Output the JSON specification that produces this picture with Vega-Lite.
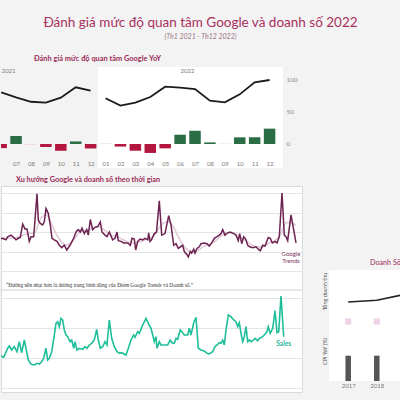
{
  "$schema": "https://vega.github.io/schema/vega-lite/v6.json",
  "background": "#f3f3f3",
  "padding": {"top": 16, "bottom": 8, "left": 0, "right": 0},
  "config": {"font": "Lato", "view": {"stroke": null}},
  "title": {
    "text": "Đánh giá mức độ quan tâm Google và doanh số 2022",
    "subtitle": "(Th1 2021 - Th12 2022)",
    "anchor": "middle",
    "fontSize": 13.5,
    "fontWeight": "normal",
    "color": "#a8305e",
    "subtitleFontSize": 7,
    "subtitleFontStyle": "italic",
    "subtitleColor": "#9a7585",
    "subtitlePadding": 3,
    "offset": 15
  },
  "datasets": {
    "yoy": [
      {"nam": "2021", "thang": "06", "idx": 6, "diem": 80.5, "yoy": -6.4},
      {"nam": "2021", "thang": "07", "idx": 7, "diem": 72.9, "yoy": 12.6},
      {"nam": "2021", "thang": "08", "idx": 8, "diem": 66, "yoy": -1.2},
      {"nam": "2021", "thang": "09", "idx": 9, "diem": 64.5, "yoy": -4.7},
      {"nam": "2021", "thang": "10", "idx": 10, "diem": 72.3, "yoy": -10.4},
      {"nam": "2021", "thang": "11", "idx": 11, "diem": 88.6, "yoy": 4},
      {"nam": "2021", "thang": "12", "idx": 12, "diem": 83.3, "yoy": -7},
      {"nam": "2022", "thang": "01", "idx": 13, "diem": 71.4, "yoy": 1},
      {"nam": "2022", "thang": "02", "idx": 14, "diem": 59.9, "yoy": -4},
      {"nam": "2022", "thang": "03", "idx": 15, "diem": 64.6, "yoy": -10.5},
      {"nam": "2022", "thang": "04", "idx": 16, "diem": 73.4, "yoy": -14},
      {"nam": "2022", "thang": "05", "idx": 17, "diem": 89.6, "yoy": -6.8},
      {"nam": "2022", "thang": "06", "idx": 18, "diem": 88, "yoy": 14.5},
      {"nam": "2022", "thang": "07", "idx": 19, "diem": 85.9, "yoy": 20.7},
      {"nam": "2022", "thang": "08", "idx": 20, "diem": 67.7, "yoy": 2.5},
      {"nam": "2022", "thang": "09", "idx": 21, "diem": 65.1, "yoy": 0.8},
      {"nam": "2022", "thang": "10", "idx": 22, "diem": 77.6, "yoy": 10.4},
      {"nam": "2022", "thang": "11", "idx": 23, "diem": 96.4, "yoy": 10.6},
      {"nam": "2022", "thang": "12", "idx": 24, "diem": 100, "yoy": 24}
    ],
    "google": [
      {"t": 0, "g": 42}, {"t": 3.3, "g": 41}, {"t": 5, "g": 40}, {"t": 6.7, "g": 44}, {"t": 10, "g": 46},
      {"t": 12.7, "g": 43}, {"t": 15, "g": 40}, {"t": 17.3, "g": 42}, {"t": 19.3, "g": 43}, {"t": 21.7, "g": 60},
      {"t": 24, "g": 54}, {"t": 26, "g": 54}, {"t": 28.3, "g": 38}, {"t": 30, "g": 44}, {"t": 32.7, "g": 44},
      {"t": 36, "g": 99}, {"t": 37.3, "g": 65}, {"t": 39.3, "g": 61}, {"t": 41.7, "g": 59}, {"t": 43.3, "g": 63},
      {"t": 45, "g": 80}, {"t": 47.3, "g": 74}, {"t": 49.3, "g": 59}, {"t": 51, "g": 42}, {"t": 53.3, "g": 40},
      {"t": 56, "g": 38}, {"t": 58.3, "g": 33}, {"t": 60.7, "g": 30}, {"t": 63.3, "g": 33}, {"t": 65.7, "g": 27},
      {"t": 69, "g": 33}, {"t": 71, "g": 38}, {"t": 72.7, "g": 42}, {"t": 75, "g": 50}, {"t": 77.3, "g": 53},
      {"t": 79.3, "g": 50}, {"t": 81, "g": 55}, {"t": 83.3, "g": 48}, {"t": 85.7, "g": 53}, {"t": 87.3, "g": 46},
      {"t": 89.3, "g": 66}, {"t": 91.7, "g": 53}, {"t": 94, "g": 56}, {"t": 96.7, "g": 57}, {"t": 99.3, "g": 63},
      {"t": 101, "g": 50}, {"t": 104, "g": 46}, {"t": 106, "g": 44}, {"t": 108.3, "g": 50}, {"t": 111.7, "g": 40},
      {"t": 114, "g": 42}, {"t": 116, "g": 50}, {"t": 117.3, "g": 39}, {"t": 120, "g": 38}, {"t": 122.7, "g": 36},
      {"t": 126.7, "g": 36}, {"t": 129.3, "g": 33}, {"t": 131, "g": 42}, {"t": 133.3, "g": 41}, {"t": 134.7, "g": 27},
      {"t": 136.7, "g": 38}, {"t": 139, "g": 41}, {"t": 141.7, "g": 40}, {"t": 144, "g": 42}, {"t": 146.7, "g": 40},
      {"t": 147.7, "g": 49}, {"t": 149, "g": 38}, {"t": 150.5, "g": 40}, {"t": 153.3, "g": 48}, {"t": 155.5, "g": 50},
      {"t": 158.3, "g": 90}, {"t": 160.7, "g": 46}, {"t": 164, "g": 48}, {"t": 167.7, "g": 71}, {"t": 170, "g": 59},
      {"t": 172.7, "g": 33}, {"t": 175, "g": 35}, {"t": 177.3, "g": 29}, {"t": 181.7, "g": 33}, {"t": 183.3, "g": 25},
      {"t": 186, "g": 21}, {"t": 187.3, "g": 18}, {"t": 189.3, "g": 25}, {"t": 190.7, "g": 23}, {"t": 192.7, "g": 28},
      {"t": 194, "g": 23}, {"t": 196, "g": 29}, {"t": 198.3, "g": 31}, {"t": 200, "g": 35}, {"t": 203.3, "g": 36},
      {"t": 206, "g": 35}, {"t": 208.3, "g": 32}, {"t": 210.7, "g": 36}, {"t": 213.3, "g": 42}, {"t": 216, "g": 44},
      {"t": 218.3, "g": 46}, {"t": 220, "g": 48}, {"t": 221.7, "g": 53}, {"t": 224, "g": 46}, {"t": 226.7, "g": 49},
      {"t": 229.3, "g": 50}, {"t": 232.7, "g": 48}, {"t": 235, "g": 46}, {"t": 237.3, "g": 39}, {"t": 238.7, "g": 48},
      {"t": 240.7, "g": 35}, {"t": 242.7, "g": 44}, {"t": 244.7, "g": 41}, {"t": 246.7, "g": 33}, {"t": 248.7, "g": 31},
      {"t": 251.7, "g": 30}, {"t": 255, "g": 31}, {"t": 257.3, "g": 28}, {"t": 259.3, "g": 26}, {"t": 261.7, "g": 33},
      {"t": 264, "g": 32}, {"t": 267.3, "g": 43}, {"t": 269.3, "g": 42}, {"t": 271.3, "g": 36}, {"t": 274, "g": 38},
      {"t": 276, "g": 36}, {"t": 278.3, "g": 44}, {"t": 281, "g": 100}, {"t": 283.3, "g": 46}, {"t": 285, "g": 44},
      {"t": 286.7, "g": 39}, {"t": 290, "g": 72}, {"t": 295, "g": 36}
    ],
    "google_tb": [
      {"t": 0, "g": 43}, {"t": 8, "g": 42}, {"t": 15, "g": 43}, {"t": 22, "g": 46}, {"t": 28, "g": 48},
      {"t": 34, "g": 50}, {"t": 40, "g": 68}, {"t": 45, "g": 72}, {"t": 50, "g": 62}, {"t": 55, "g": 48},
      {"t": 60, "g": 38}, {"t": 65, "g": 33}, {"t": 70, "g": 36}, {"t": 75, "g": 44}, {"t": 80, "g": 51},
      {"t": 86, "g": 52}, {"t": 92, "g": 55}, {"t": 98, "g": 57}, {"t": 104, "g": 52}, {"t": 110, "g": 46},
      {"t": 116, "g": 44}, {"t": 122, "g": 40}, {"t": 128, "g": 37}, {"t": 134, "g": 36}, {"t": 140, "g": 38},
      {"t": 146, "g": 41}, {"t": 152, "g": 44}, {"t": 158, "g": 55}, {"t": 163, "g": 62}, {"t": 168, "g": 63},
      {"t": 173, "g": 55}, {"t": 178, "g": 42}, {"t": 184, "g": 30}, {"t": 190, "g": 25}, {"t": 196, "g": 26},
      {"t": 202, "g": 31}, {"t": 208, "g": 34}, {"t": 214, "g": 38}, {"t": 220, "g": 45}, {"t": 226, "g": 49},
      {"t": 232, "g": 49}, {"t": 238, "g": 44}, {"t": 244, "g": 40}, {"t": 250, "g": 34}, {"t": 256, "g": 31},
      {"t": 262, "g": 31}, {"t": 268, "g": 36}, {"t": 274, "g": 39}, {"t": 280, "g": 48}, {"t": 285, "g": 62},
      {"t": 290, "g": 62}, {"t": 295, "g": 58}
    ],
    "sales": [
      {"t": 0, "s": 53.3}, {"t": 2.7, "s": 51.2}, {"t": 6.7, "s": 66.2}, {"t": 8.3, "s": 70}, {"t": 10.7, "s": 63.3},
      {"t": 13.3, "s": 68.8}, {"t": 16, "s": 60.5}, {"t": 18.3, "s": 77.2}, {"t": 20.7, "s": 58.8}, {"t": 23.3, "s": 80},
      {"t": 25, "s": 66.2}, {"t": 27.3, "s": 46.7}, {"t": 30, "s": 39.5}, {"t": 33.3, "s": 38.3}, {"t": 36, "s": 41.2},
      {"t": 38.3, "s": 40}, {"t": 40.7, "s": 43.8}, {"t": 42.7, "s": 49.5}, {"t": 45, "s": 66.2}, {"t": 46.7, "s": 46.7},
      {"t": 48.3, "s": 49.5}, {"t": 50.7, "s": 60.5}, {"t": 53.3, "s": 88.3}, {"t": 55, "s": 107.8}, {"t": 56.7, "s": 110.5},
      {"t": 58.3, "s": 102.2}, {"t": 60, "s": 116.2}, {"t": 61.7, "s": 113.3}, {"t": 63.3, "s": 96.7}, {"t": 65, "s": 88.3},
      {"t": 66.7, "s": 85.5}, {"t": 69, "s": 77.2}, {"t": 70.7, "s": 80}, {"t": 72.7, "s": 66.2}, {"t": 74, "s": 77.2},
      {"t": 76, "s": 63.3}, {"t": 78.3, "s": 66.2}, {"t": 81.7, "s": 64.5}, {"t": 84, "s": 68.8}, {"t": 86, "s": 66.2},
      {"t": 88.3, "s": 71.7}, {"t": 90.7, "s": 74.5}, {"t": 93.3, "s": 80}, {"t": 95.7, "s": 97.8}, {"t": 97.3, "s": 80},
      {"t": 99.3, "s": 66.2}, {"t": 101.7, "s": 68.8}, {"t": 104, "s": 77.2}, {"t": 106, "s": 71.7}, {"t": 108.3, "s": 113.3},
      {"t": 110.7, "s": 82.8}, {"t": 113.3, "s": 68.8}, {"t": 116, "s": 60.5}, {"t": 118.7, "s": 57.8}, {"t": 120.7, "s": 58.8},
      {"t": 125, "s": 55}, {"t": 127.3, "s": 66.2}, {"t": 130, "s": 80}, {"t": 132.7, "s": 88.3}, {"t": 134, "s": 84.5},
      {"t": 136.7, "s": 93.8}, {"t": 138.3, "s": 91.2}, {"t": 141.7, "s": 105}, {"t": 145, "s": 116.2}, {"t": 147.3, "s": 107.8},
      {"t": 150, "s": 99.5}, {"t": 151.7, "s": 88.3}, {"t": 153.3, "s": 77.2}, {"t": 155, "s": 85.5}, {"t": 156, "s": 66.2},
      {"t": 158.3, "s": 77.2}, {"t": 160, "s": 71.7}, {"t": 163.3, "s": 71.7}, {"t": 166.7, "s": 71.7}, {"t": 169.3, "s": 80},
      {"t": 171, "s": 75.5}, {"t": 173.3, "s": 74.5}, {"t": 175, "s": 82.8}, {"t": 176.7, "s": 81.2}, {"t": 179.3, "s": 96.7},
      {"t": 181.7, "s": 92.2}, {"t": 183.3, "s": 88.3}, {"t": 186.7, "s": 88.3}, {"t": 188.3, "s": 99.5}, {"t": 190, "s": 88.3},
      {"t": 192.7, "s": 108.8}, {"t": 195, "s": 117.8}, {"t": 197.3, "s": 66.2}, {"t": 200, "s": 63.3}, {"t": 203.3, "s": 61.7},
      {"t": 206, "s": 57.8}, {"t": 208.3, "s": 56.7}, {"t": 211.7, "s": 60.5}, {"t": 214, "s": 68.8}, {"t": 216, "s": 71.7},
      {"t": 218.3, "s": 75.5}, {"t": 220, "s": 74.5}, {"t": 221.7, "s": 80}, {"t": 223.3, "s": 71.7}, {"t": 225, "s": 96.7},
      {"t": 227.3, "s": 121.7}, {"t": 230, "s": 118.8}, {"t": 232.7, "s": 113.3}, {"t": 235, "s": 110.5}, {"t": 236.7, "s": 102.2},
      {"t": 238.3, "s": 108.8}, {"t": 240, "s": 91.2}, {"t": 241.7, "s": 77.2}, {"t": 243.3, "s": 85.5}, {"t": 245, "s": 102.2},
      {"t": 246.7, "s": 77.2}, {"t": 248.3, "s": 80}, {"t": 250, "s": 77.2}, {"t": 252.7, "s": 80}, {"t": 254, "s": 82.8},
      {"t": 256.7, "s": 78.8}, {"t": 258.3, "s": 82.8}, {"t": 260.7, "s": 84.5}, {"t": 263.3, "s": 88.3}, {"t": 266, "s": 93.8},
      {"t": 267.3, "s": 102.2}, {"t": 269.3, "s": 91.2}, {"t": 271.7, "s": 99.5}, {"t": 274, "s": 128.8}, {"t": 276, "s": 92.2},
      {"t": 277.7, "s": 93.8}, {"t": 280, "s": 153.3}, {"t": 282.7, "s": 85.5}
    ],
    "theo_nam": [
      {"nam": 2017, "doanh_thu": 100, "diem_gg": 53.6, "cpi": 3.53},
      {"nam": 2018, "doanh_thu": 104.5, "diem_gg": 53.6, "cpi": 3.54},
      {"nam": 2019, "doanh_thu": 120.5, "diem_gg": 53.6, "cpi": 2.79}
    ]
  },
  "bounds": "flush",
  "spacing": 18,
  "vconcat": [
    {
      "width": 282,
      "height": 101,
      "title": {"text": "Đánh giá mức độ quan tâm Google YoY", "anchor": "start", "frame": "group", "dx": 33, "offset": 5, "fontSize": 7.4, "fontWeight": "bold", "color": "#9b2b57"},
      "layer": [
        {
          "data": {"values": [{"nam": "2022"}]},
          "mark": {"type": "rect", "color": "#ffffff", "clip": true},
          "encoding": {
            "x": {"datum": 12.5, "type": "quantitative", "scale": {"domain": [6.325, 24.565]},
              "axis": {"orient": "bottom", "offset": -9, "values": [7, 8, 9, 10, 11, 12, 13, 14, 15, 16, 17, 18, 19, 20, 21, 22, 23, 24], "labelExpr": "pad((datum.value - 1) % 12 + 1, 2, '0', 'left')", "labelFontSize": 6, "labelColor": "#7a7a7a", "labelPadding": 1, "labelOverlap": false, "labelFlush": false, "ticks": false, "domain": false, "grid": false, "title": null, "zindex": 1}},
            "x2": {"datum": 25},
            "y": {"datum": 120.3, "type": "quantitative", "scale": {"domain": [-37.5, 120.3]},
              "axis": {"orient": "right", "values": [0, 50, 100], "labelFontSize": 6.5, "labelColor": "#8a8a8a", "labelPadding": 3, "ticks": false, "domain": false, "grid": false, "title": null, "zindex": 1}},
            "y2": {"datum": -37.5}
          }
        },
        {
          "data": {"name": "yoy"},
          "mark": {"type": "bar", "width": 11.5, "clip": true},
          "encoding": {
            "x": {"field": "idx", "type": "quantitative", "scale": {"domain": [6.325, 24.565]},
              "axis": {"orient": "bottom", "offset": -9, "values": [7, 8, 9, 10, 11, 12, 13, 14, 15, 16, 17, 18, 19, 20, 21, 22, 23, 24], "labelExpr": "pad((datum.value - 1) % 12 + 1, 2, '0', 'left')", "labelFontSize": 6, "labelColor": "#7a7a7a", "labelPadding": 1, "labelOverlap": false, "labelFlush": false, "ticks": false, "domain": false, "grid": false, "title": null, "zindex": 1}},
            "y": {"field": "yoy", "type": "quantitative", "scale": {"domain": [-37.5, 120.3]},
              "axis": {"orient": "right", "values": [0, 50, 100], "labelFontSize": 6.5, "labelColor": "#8a8a8a", "labelPadding": 3, "ticks": false, "domain": false, "grid": false, "title": null, "zindex": 1}},
            "color": {"field": "yoy", "type": "quantitative", "scale": {"type": "threshold", "domain": [-2, 0, 2], "range": ["#b3173f", "#f0d3db", "#d8e8dd", "#2b6d44"]}, "legend": null}
          }
        },
        {
          "data": {"name": "yoy"},
          "mark": {"type": "line", "color": "#1a1a1a", "strokeWidth": 1.8, "clip": true},
          "encoding": {
            "x": {"field": "idx", "type": "quantitative", "scale": {"domain": [6.325, 24.565]},
              "axis": {"orient": "bottom", "offset": -9, "values": [7, 8, 9, 10, 11, 12, 13, 14, 15, 16, 17, 18, 19, 20, 21, 22, 23, 24], "labelExpr": "pad((datum.value - 1) % 12 + 1, 2, '0', 'left')", "labelFontSize": 6, "labelColor": "#7a7a7a", "labelPadding": 1, "labelOverlap": false, "labelFlush": false, "ticks": false, "domain": false, "grid": false, "title": null, "zindex": 1}},
            "y": {"field": "diem", "type": "quantitative", "scale": {"domain": [-37.5, 120.3]},
              "axis": {"orient": "right", "values": [0, 50, 100], "labelFontSize": 6.5, "labelColor": "#8a8a8a", "labelPadding": 3, "ticks": false, "domain": false, "grid": false, "title": null, "zindex": 1}},
            "detail": {"field": "nam"}
          }
        },
        {
          "data": {"values": [{"nam": "2021"}]},
          "mark": {"type": "text", "fontSize": 6, "color": "#7a7a7a", "align": "center", "baseline": "middle", "clip": true},
          "encoding": {
            "x": {"datum": 6.5, "type": "quantitative", "scale": {"domain": [6.325, 24.565]},
              "axis": {"orient": "bottom", "offset": -9, "values": [7, 8, 9, 10, 11, 12, 13, 14, 15, 16, 17, 18, 19, 20, 21, 22, 23, 24], "labelExpr": "pad((datum.value - 1) % 12 + 1, 2, '0', 'left')", "labelFontSize": 6, "labelColor": "#7a7a7a", "labelPadding": 1, "labelOverlap": false, "labelFlush": false, "ticks": false, "domain": false, "grid": false, "title": null, "zindex": 1}},
            "y": {"datum": 114, "type": "quantitative", "scale": {"domain": [-37.5, 120.3]},
              "axis": {"orient": "right", "values": [0, 50, 100], "labelFontSize": 6.5, "labelColor": "#8a8a8a", "labelPadding": 3, "ticks": false, "domain": false, "grid": false, "title": null, "zindex": 1}},
            "text": {"field": "nam"}
          }
        },
        {
          "data": {"values": [{"nam": "2022"}]},
          "mark": {"type": "text", "fontSize": 6, "color": "#7a7a7a", "align": "center", "baseline": "middle", "clip": true},
          "encoding": {
            "x": {"datum": 18.5, "type": "quantitative", "scale": {"domain": [6.325, 24.565]},
              "axis": {"orient": "bottom", "offset": -9, "values": [7, 8, 9, 10, 11, 12, 13, 14, 15, 16, 17, 18, 19, 20, 21, 22, 23, 24], "labelExpr": "pad((datum.value - 1) % 12 + 1, 2, '0', 'left')", "labelFontSize": 6, "labelColor": "#7a7a7a", "labelPadding": 1, "labelOverlap": false, "labelFlush": false, "ticks": false, "domain": false, "grid": false, "title": null, "zindex": 1}},
            "y": {"datum": 114, "type": "quantitative", "scale": {"domain": [-37.5, 120.3]},
              "axis": {"orient": "right", "values": [0, 50, 100], "labelFontSize": 6.5, "labelColor": "#8a8a8a", "labelPadding": 3, "ticks": false, "domain": false, "grid": false, "title": null, "zindex": 1}},
            "text": {"field": "nam"}
          }
        }
      ]
    },
    {
      "bounds": "flush",
      "spacing": 27,
      "hconcat": [
        {
          "width": 301,
          "height": 206,
          "view": {"fill": "#ffffff", "stroke": "#dadada", "strokeWidth": 1},
          "title": {"text": "Xu hướng Google và doanh số theo thời gian", "anchor": "start", "frame": "group", "dx": 15, "offset": 3, "fontSize": 7.3, "fontWeight": "bold", "color": "#9b2b57"},
          "layer": [
            {
              "layer": [
                {
                  "data": {"name": "google_tb"},
                  "mark": {"type": "line", "color": "#e2cbd8", "strokeWidth": 1.6, "interpolate": "monotone", "clip": true},
                  "encoding": {
                    "x": {"field": "t", "type": "quantitative", "scale": {"domain": [0, 301]}, "axis": null},
                    "y": {"field": "g", "type": "quantitative", "scale": {"domain": [-155.1, 109]},
                      "axis": {"orient": "left", "values": [0, 25, 50, 75, 100], "grid": true, "gridColor": "#e4e4e4", "labels": false, "ticks": false, "domain": false, "title": null}}
                  }
                },
                {
                  "data": {"name": "google"},
                  "mark": {"type": "line", "color": "#6d2352", "strokeWidth": 1.5, "clip": true},
                  "encoding": {
                    "x": {"field": "t", "type": "quantitative", "scale": {"domain": [0, 301]}, "axis": null},
                    "y": {"field": "g", "type": "quantitative", "scale": {"domain": [-155.1, 109]},
                      "axis": {"orient": "left", "values": [0, 25, 50, 75, 100], "grid": true, "gridColor": "#e4e4e4", "labels": false, "ticks": false, "domain": false, "title": null}}
                  }
                },
                {
                  "data": {"name": "google"},
                  "transform": [{"filter": "datum.t == 295"}],
                  "mark": {"type": "text", "lineBreak": "\n", "fontSize": 6, "lineHeight": 7.5, "color": "#7b3560", "dx": -5, "dy": 11, "align": "center", "baseline": "middle"},
                  "encoding": {
                    "x": {"field": "t", "type": "quantitative", "scale": {"domain": [0, 301]}, "axis": null},
                    "y": {"field": "g", "type": "quantitative", "scale": {"domain": [-155.1, 109]},
                      "axis": {"orient": "left", "values": [0, 25, 50, 75, 100], "grid": true, "gridColor": "#e4e4e4", "labels": false, "ticks": false, "domain": false, "title": null}},
                    "text": {"value": "Google\nTrends"}
                  }
                }
              ]
            },
            {
              "layer": [
                {
                  "data": {"name": "sales"},
                  "mark": {"type": "line", "color": "#1fbe9a", "strokeWidth": 1.6, "clip": true},
                  "encoding": {
                    "x": {"field": "t", "type": "quantitative", "scale": {"domain": [0, 301]}, "axis": null},
                    "y": {"field": "s", "type": "quantitative", "scale": {"domain": [-6.7, 336.7]},
                      "axis": {"orient": "right", "values": [0, 50, 100, 150], "grid": true, "gridColor": "#e4e4e4", "labels": false, "ticks": false, "domain": false, "title": null}}
                  }
                },
                {
                  "data": {"name": "sales"},
                  "transform": [{"filter": "datum.t == 282.7"}],
                  "mark": {"type": "text", "fontSize": 6.5, "fontWeight": "bold", "color": "#22b89a", "dy": 7, "align": "center", "baseline": "middle"},
                  "encoding": {
                    "x": {"field": "t", "type": "quantitative", "scale": {"domain": [0, 301]}, "axis": null},
                    "y": {"field": "s", "type": "quantitative", "scale": {"domain": [-6.7, 336.7]},
                      "axis": {"orient": "right", "values": [0, 50, 100, 150], "grid": true, "gridColor": "#e4e4e4", "labels": false, "ticks": false, "domain": false, "title": null}},
                    "text": {"value": "Sales"}
                  }
                },
                {
                  "data": {"values": [{}]},
                  "mark": {"type": "rule", "color": "#cfcfcf", "strokeWidth": 1},
                  "encoding": {
                    "x": {"datum": 0, "type": "quantitative", "scale": {"domain": [0, 301]}, "axis": null},
                    "x2": {"datum": 301},
                    "y": {"datum": 163.3, "type": "quantitative", "scale": {"domain": [-6.7, 336.7]},
                      "axis": {"orient": "right", "values": [0, 50, 100, 150], "grid": true, "gridColor": "#e4e4e4", "labels": false, "ticks": false, "domain": false, "title": null}}
                  }
                },
                {
                  "data": {"values": [{}]},
                  "mark": {"type": "text", "font": "Liberation Serif", "fontSize": 5.3, "color": "#333333", "align": "left", "baseline": "middle"},
                  "encoding": {
                    "x": {"datum": 5, "type": "quantitative", "scale": {"domain": [0, 301]}, "axis": null},
                    "y": {"datum": 171.7, "type": "quantitative", "scale": {"domain": [-6.7, 336.7]},
                      "axis": {"orient": "right", "values": [0, 50, 100, 150], "grid": true, "gridColor": "#e4e4e4", "labels": false, "ticks": false, "domain": false, "title": null}},
                    "text": {"value": "“Đường nền nhạt hơn là đường trung bình động của Điểm Google Trends và Doanh số.”"}
                  }
                }
              ]
            }
          ],
          "resolve": {"scale": {"y": "independent"}, "axis": {"y": "independent"}}
        },
        {
          "bounds": "flush",
          "spacing": 8,
          "vconcat": [
            {
              "width": 72,
              "height": 76,
              "view": {"stroke": null, "fill": null},
              "data": {"values": [{}]},
              "mark": {"type": "text"},
              "encoding": {"text": {"value": ""}}
            },
            {
              "width": 72,
              "height": 111,
              "view": {"fill": "#ffffff", "stroke": null},
              "title": {"text": "Doanh Số", "anchor": "start", "frame": "group", "dx": 41, "offset": 4, "fontSize": 7.2, "fontWeight": "normal", "color": "#9b2b57", "limit": 34},
              "data": {"name": "theo_nam"},
              "encoding": {
                "x": {"field": "nam", "type": "quantitative", "scale": {"domain": [2016.503, 2018.672]},
                  "axis": {"values": [2017, 2018], "format": "d", "labelFontSize": 6, "labelColor": "#7a7a7a", "labelPadding": 1, "ticks": false, "domain": false, "grid": false, "title": null}}
              },
              "layer": [
                {
                  "mark": {"type": "line", "color": "#222222", "strokeWidth": 1.6, "clip": true},
                  "encoding": {
                    "y": {"field": "doanh_thu", "type": "quantitative", "scale": {"domain": [-108.8, 184.5]},
                      "axis": {"orient": "left", "title": "Tổng doanh thu", "labels": false, "ticks": false, "domain": false, "grid": false, "titleFontSize": 5.5, "titleFontWeight": "normal", "titleColor": "#555555", "titleX": -5, "titleY": 21, "titleAngle": 270, "titleAlign": "center", "titleBaseline": "middle"}}
                  }
                },
                {
                  "mark": {"type": "square", "color": "#eed3e6", "opacity": 1, "size": 38, "filled": true, "clip": true},
                  "encoding": {
                    "y": {"field": "diem_gg", "type": "quantitative", "scale": {"domain": [0, 100]}, "axis": null}
                  }
                },
                {
                  "mark": {"type": "bar", "color": "#555555", "width": 5.5, "clip": true},
                  "encoding": {
                    "y": {"field": "cpi", "type": "quantitative", "scale": {"domain": [0, 15.5]},
                      "axis": {"orient": "left", "title": "CPI YoY (%)", "labels": false, "ticks": false, "domain": false, "grid": false, "titleFontSize": 5.5, "titleFontWeight": "normal", "titleColor": "#555555", "titleX": -5, "titleY": 81, "titleAngle": 270, "titleAlign": "center", "titleBaseline": "middle"}}
                  }
                }
              ],
              "resolve": {"scale": {"y": "independent"}, "axis": {"y": "independent"}}
            }
          ]
        }
      ]
    }
  ]
}
